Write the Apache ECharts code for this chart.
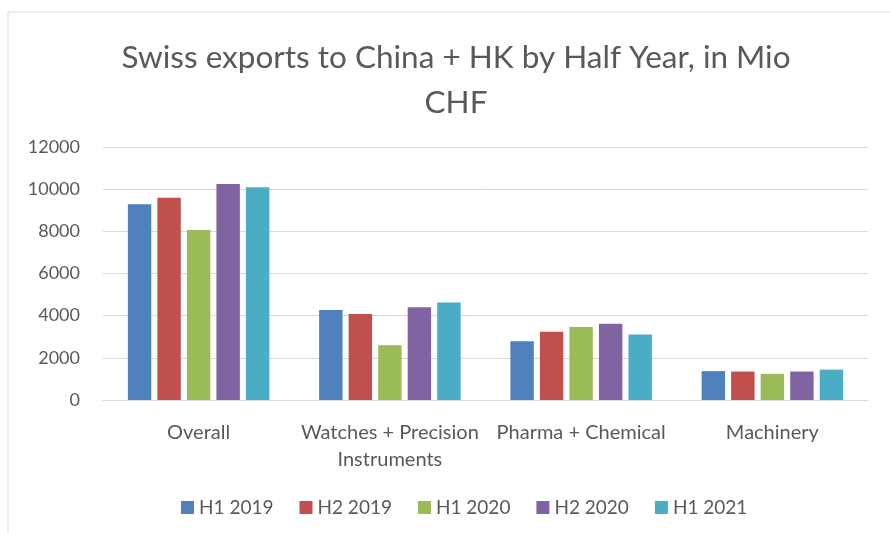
<!DOCTYPE html>
<html>
<head>
<meta charset="utf-8">
<script src="https://cdn.jsdelivr.net/npm/echarts@6/dist/echarts.min.js"></script>
<style>
  html, body { margin: 0; padding: 0; background: #fff; }
  #chart { width: 890px; height: 533px; }
</style>
</head>
<body>
<div id="chart"></div>
<script>
const categories = ['Overall', 'Watches + Precision\nInstruments', 'Pharma + Chemical', 'Machinery'];
const seriesNames = ['H1 2019', 'H2 2019', 'H1 2020', 'H2 2020', 'H1 2021'];
const h1_2019 = [9280, 4270, 2790, 1370];
const h2_2019 = [9590, 4080, 3240, 1350];
const h1_2020 = [8060, 2600, 3460, 1240];
const h2_2020 = [10250, 4400, 3620, 1350];
const h1_2021 = [10090, 4620, 3110, 1440];
const seriesData = [h1_2019, h2_2019, h1_2020, h2_2020, h1_2021];

let myChart = echarts.init(document.getElementById('chart'));
let colors = ['#4f81bd', '#c0504d', '#9bbb59', '#8064a2', '#4bacc6'];
let textColor = '#595959';
let font = 'Lato';

let option = {
    color: colors,
    backgroundColor: '#fff',
    animation: false,
    textStyle: { fontFamily: font, color: textColor },
    title: {
        text: 'Swiss exports to China + HK by Half Year, in Mio\nCHF',
        left: 451,
        top: 30,
        textAlign: 'center',
        textStyle: {
            fontFamily: font,
            fontSize: 31.5,
            fontWeight: 'normal',
            color: textColor,
            lineHeight: 45
        }
    },
    graphic: [{
        type: 'rect',
        shape: { x: 8, y: 12, width: 1000, height: 1000 },
        style: { fill: 'none', stroke: '#d9d9d9', lineWidth: 1 },
        silent: true
    }],
    legend: {
        bottom: 11,
        left: 176,
        itemWidth: 13,
        itemHeight: 13,
        itemGap: 26,
        icon: 'rect',
        textStyle: { fontFamily: font, fontSize: 19, color: textColor },
        data: seriesNames
    },
    grid: {
        left: 103,
        right: 22,
        top: 147,
        bottom: 133
    },
    xAxis: {
        type: 'category',
        data: categories,
        axisTick: { show: false },
        axisLine: { lineStyle: { color: '#d9d9d9', width: 1 } },
        axisLabel: {
            fontFamily: font,
            fontSize: 20,
            color: textColor,
            margin: 19,
            lineHeight: 27,
            interval: 0
        }
    },
    yAxis: {
        type: 'value',
        min: 0,
        max: 12000,
        interval: 2000,
        axisLine: { show: false },
        axisTick: { show: false },
        axisLabel: {
            fontFamily: font,
            fontSize: 18,
            color: textColor,
            margin: 23,
            formatter: v => String(v)
        },
        splitLine: { lineStyle: { color: '#d9d9d9', width: 1 } }
    },
    series: seriesNames.map((name, i) => ({
        name: name,
        type: 'bar',
        data: seriesData[i],
        barGap: '26%',
        barCategoryGap: '26%'
    }))
};
myChart.setOption(option);
</script>
</body>
</html>
